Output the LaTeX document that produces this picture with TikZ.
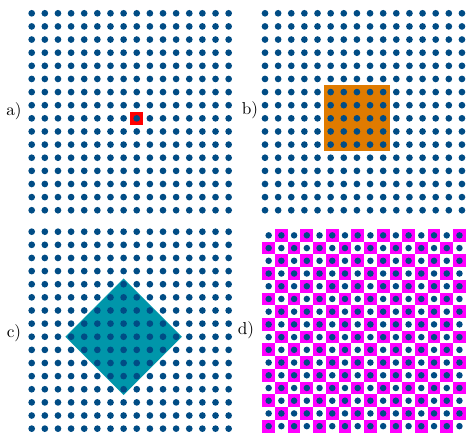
\documentclass[tikz,border=0pt]{standalone}
\definecolor{dotblue}{RGB}{0,76,133}
\definecolor{dmdteal}{RGB}{0,150,170}
\definecolor{orng}{RGB}{224,123,0}
\definecolor{mgnt}{RGB}{255,0,255}
\begin{document}
\begin{tikzpicture}[x=0.58pt,y=-0.58pt,
  lbl/.style={inner sep=0pt,font=\normalsize}]
\useasboundingbox (0,0) rectangle (466,433);
% ---- a) ----
\fill[red] (129.9,111.7) rectangle (143.1,124.9);
\foreach \i in {0,...,15}{\foreach \j in {0,...,15}{
  \fill[dotblue] ({31.7+\i*13.13},{13.3+\j*13.13}) circle[radius=3.35];}}
\node[lbl] (la) at (14,111) {a)};
% ---- b) ----
\fill[orng] (324.1,85.5) rectangle (389.7,151.2);
\foreach \i in {0,...,15}{\foreach \j in {0,...,15}{
  \fill[dotblue] ({265+\i*13.13},{13.3+\j*13.13}) circle[radius=3.35];}}
\node[lbl] (lb) at (250,110) {b)};
% ---- c) ----
\fill[dmdteal] (123.6,278.4) -- (181.9,336.7) -- (123.6,395) -- (65.3,336.7) -- cycle;
\foreach \i in {0,...,15}{\foreach \j in {0,...,15}{
  \fill[dotblue] ({31.7+\i*13.13},{231.7+\j*13.13}) circle[radius=3.35];}}
\node[lbl] (lc) at (14,333) {c)};
% ---- d) ----
\foreach \i in {0,...,15}{\foreach \j in {0,...,15}{
  \pgfmathtruncatemacro\pp{mod(\i+\j,2)}
  \ifnum\pp=1
    \fill[mgnt] ({262.3+\i*12.72},{229+\j*12.72}) rectangle ++(12.72,12.72);
  \fi
  \fill[dotblue] ({268.66+\i*12.72},{235.36+\j*12.72}) circle[radius=3.25];}}
\node[lbl] (ld) at (246,330) {d)};
\end{tikzpicture}
\end{document}
